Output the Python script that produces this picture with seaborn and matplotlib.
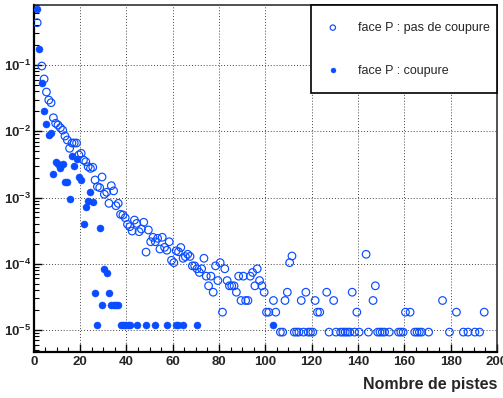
import numpy as np
import pandas as pd
import matplotlib
matplotlib.use("Agg")
import matplotlib.pyplot as plt
import matplotlib.ticker as mticker
import seaborn as sns

# ---------------- data ----------------
open_x = [1.5, 3.5, 4.5, 5.5, 6.5, 7.5, 8.5, 9.5, 10.5, 11.5, 12.5, 13.5, 14.5, 15.5,
          16.5, 17.5, 18.5, 19.5, 20.5, 21.5, 22.5, 23.5, 24.5, 25.5, 26.5, 27.5, 28.5,
          29.5, 30.5, 31.5, 32.5, 33.5, 34.5, 35.5, 36.5, 37.5, 38.5, 39.5, 40.5, 41.5,
          42.5, 43.5, 44.5, 45.5, 46.5, 47.5, 48.5, 49.5, 50.5, 51.5, 52.5, 53.5, 54.5,
          55.5, 56.5, 57.5, 58.5, 59.5, 60.5, 61.5, 62.5, 63.5, 64.5, 65.5, 66.5, 67.5,
          68.5, 69.5, 70.5, 71.5, 72.5, 73.5, 74.5, 75.5, 76.5, 77.5, 78.5, 79.5, 80.5,
          81.5, 82.5, 83.5, 84.5, 85.5, 86.5, 87.5, 88.5, 89.5, 90.5, 91.5, 92.5, 93.5,
          94.5, 95.5, 96.5, 97.5, 98.5, 99.5, 100.5, 101.5, 103.5, 104.5, 106.5, 107.5,
          108.5, 109.5, 110.5, 111.5, 112.5, 113.5, 114.5, 115.5, 116.5, 117.5, 118.5,
          119.5, 120.5, 121.5, 122.5, 123.5, 126.5, 127.5, 129.5, 130.5, 132.5, 133.5,
          134.5, 135.5, 136.5, 137.5, 138.5, 139.5, 140.5, 143.5, 144.5, 146.5, 147.5,
          148.5, 149.5, 150.5, 151.5, 153.5, 157.5, 158.5, 159.5, 160.5, 162.5, 164.5,
          165.5, 166.5, 167.5, 170.5, 176.5, 179.5, 182.5, 185.5, 187.5, 190.5, 192.5,
          194.5]
open_y = [0.435, 0.0966, 0.0615, 0.0391, 0.0296, 0.0270, 0.0160, 0.0132, 0.0124, 0.0113,
          0.0104, 0.00847, 0.00738, 0.00553, 0.00665, 0.00665, 0.00665, 0.00439, 0.00465,
          0.00368, 0.00347, 0.00292, 0.00275, 0.00286, 0.00184, 0.00146, 0.00141, 0.00204,
          0.00112, 0.00120, 0.000817, 0.00151, 0.00126, 0.000752, 0.000817, 0.000557,
          0.000545, 0.000495, 0.000394, 0.000363, 0.000312, 0.000457, 0.000407, 0.000305,
          0.000335, 0.000423, 0.000150, 0.000324, 0.000215, 0.000251, 0.000215, 0.000242,
          0.000167, 0.000251, 0.000177, 0.000160, 0.000215, 0.000113, 0.000104, 0.000157,
          0.000152, 0.000176, 0.000121, 0.000128, 0.000139, 0.000129, 9.3e-5, 9.3e-5,
          8.4e-5, 7.4e-5, 8.4e-5, 0.000121, 6.5e-5, 4.65e-5, 6.5e-5, 3.72e-5, 9.3e-5,
          5.58e-5, 0.000104, 1.86e-5, 8.4e-5, 5.58e-5, 4.65e-5, 4.65e-5, 4.65e-5, 3.72e-5,
          6.5e-5, 2.79e-5, 6.5e-5, 2.79e-5, 2.79e-5, 6.5e-5, 7.4e-5, 4.65e-5, 8.4e-5,
          5.58e-5, 4.65e-5, 3.72e-5, 1.86e-5, 1.86e-5, 2.79e-5, 1.86e-5, 9.3e-6, 9.3e-6,
          2.79e-5, 3.72e-5, 0.000104, 0.000131, 9.3e-6, 9.3e-6, 9.3e-6, 2.79e-5, 9.3e-6,
          3.72e-5, 9.3e-6, 9.3e-6, 9.3e-6, 2.79e-5, 1.86e-5, 1.86e-5, 3.72e-5, 9.3e-6,
          2.79e-5, 9.3e-6, 9.3e-6, 9.3e-6, 9.3e-6, 9.3e-6, 9.3e-6, 3.72e-5, 9.3e-6,
          1.86e-5, 9.3e-6, 0.000139, 9.3e-6, 2.79e-5, 4.65e-5, 9.3e-6, 9.3e-6, 9.3e-6,
          9.3e-6, 9.3e-6, 9.3e-6, 9.3e-6, 9.3e-6, 1.86e-5, 1.86e-5, 9.3e-6, 9.3e-6,
          9.3e-6, 9.3e-6, 9.3e-6, 2.79e-5, 9.3e-6, 1.86e-5, 9.3e-6, 9.3e-6, 9.3e-6,
          9.3e-6, 1.86e-5]

cut_x = [1.5, 2.5, 3.5, 4.5, 5.5, 6.5, 7.5, 8.5, 9.5, 10.5, 11.5, 12.5, 13.5, 14.5, 15.5,
         16.5, 17.5, 18.5, 19.5, 20.5, 21.5, 22.5, 23.5, 24.5, 25.5, 26.5, 27.5, 28.5,
         29.5, 30.5, 31.5, 32.5, 33.5, 34.5, 35.5, 36.5, 37.5, 38.5, 39.5, 40.5, 41.5,
         44.5, 48.5, 52.5, 57.5, 61.5, 62.5, 64.5, 70.5, 103.5]
cut_y = [0.693, 0.173, 0.053, 0.0202, 0.0129, 0.00877, 0.00951, 0.00224, 0.0034, 0.00317,
         0.00275, 0.00317, 0.00169, 0.00173, 0.00094, 0.00428, 0.00302, 0.00381, 0.00206,
         0.00184, 0.000394, 0.000711, 0.000885, 0.0012, 0.000847, 3.57e-5, 1.19e-5,
         0.000343, 2.38e-5, 8.33e-5, 7.14e-5, 3.57e-5, 2.38e-5, 2.38e-5, 2.38e-5, 2.38e-5,
         1.19e-5, 1.19e-5, 1.19e-5, 1.19e-5, 1.19e-5, 1.19e-5, 1.19e-5, 1.19e-5, 1.19e-5,
         1.19e-5, 1.19e-5, 1.19e-5, 1.19e-5, 1.19e-5]

label_open = "face P : pas de coupure"
label_cut = "face P : coupure"
x_label = "Nombre de pistes"
xtick_vals = [0, 20, 40, 60, 80, 100, 120, 140, 160, 180, 200]
ytick_vals = [1e-5, 1e-4, 1e-3, 1e-2, 1e-1]
ytick_labels = [r"$\mathbf{10^{-5}}$", r"$\mathbf{10^{-4}}$", r"$\mathbf{10^{-3}}$",
                r"$\mathbf{10^{-2}}$", r"$\mathbf{10^{-1}}$"]

# ---------------- style ----------------
sns.set_theme(style="white")
plt.rcParams["font.family"] = ["Liberation Sans", "DejaVu Sans"]
plt.rcParams["mathtext.fontset"] = "custom"
plt.rcParams["mathtext.rm"] = "Liberation Sans:bold"
plt.rcParams["mathtext.bf"] = "Liberation Sans:bold"
plt.rcParams["mathtext.it"] = "Liberation Sans:bold"

BLUE = "#0a4cff"

df_open = pd.DataFrame({"x": open_x, "y": open_y})
df_cut = pd.DataFrame({"x": cut_x, "y": cut_y})

fig = plt.figure(figsize=(5.03, 3.98), dpi=100)
ax = fig.add_axes([0.067, 0.1156, 0.921, 0.8718])

sns.scatterplot(data=df_cut, x="x", y="y", ax=ax, color=BLUE, edgecolor=BLUE,
                s=26, linewidth=0.3, label=label_cut, zorder=3)
sns.scatterplot(data=df_open, x="x", y="y", ax=ax, facecolors="none", edgecolor=BLUE,
                s=30, linewidth=0.85, marker="o", label=label_open, zorder=4)

ax.set_yscale("log")
ax.set_xlim(0, 200)
ax.set_ylim(4.66e-6, 0.805)

ax.set_xticks(xtick_vals)
ax.set_xticklabels([str(v) for v in xtick_vals], fontweight="bold", fontsize=9.5)
ax.xaxis.set_minor_locator(mticker.MultipleLocator(5))
ax.set_yticks(ytick_vals)
ax.set_yticklabels(ytick_labels, fontsize=9.5)
ax.yaxis.set_minor_locator(mticker.LogLocator(base=10, subs=np.arange(2, 10), numticks=20))
ax.yaxis.set_minor_formatter(mticker.NullFormatter())

ax.tick_params(which="major", direction="in", length=6, width=1.0, color="black",
               bottom=True, left=True, top=False, right=False, pad=3)
ax.tick_params(which="minor", direction="in", length=3.5, width=0.8, color="black",
               bottom=True, left=True, top=False, right=False)
ax.tick_params(axis="y", which="major", pad=2)

ax.grid(True, which="major", color="#444444", linestyle=(0, (1, 2)), linewidth=0.7)
ax.set_axisbelow(True)

for side in ["left", "bottom"]:
    ax.spines[side].set_linewidth(1.6)
    ax.spines[side].set_color("black")
for side in ["top", "right"]:
    ax.spines[side].set_linewidth(1.1)
    ax.spines[side].set_color("#222222")

ax.set_xlabel("")
ax.set_ylabel("")
fig.text(0.988, 0.035, x_label, ha="right", va="center", fontsize=11.5, fontweight="bold")

handles, labels = ax.get_legend_handles_labels()
order = [labels.index(label_open), labels.index(label_cut)]
leg = ax.legend([handles[i] for i in order], [labels[i] for i in order],
                loc="upper left", bbox_to_anchor=(0.5985, 0.752, 0.4015, 0.248),
                mode="expand", borderaxespad=0, fontsize=9, frameon=True,
                fancybox=False, edgecolor="black", borderpad=1.35, labelspacing=2.45,
                handlelength=0.8, handletextpad=1.6, markerscale=0.7)
leg.get_frame().set_linewidth(1.2)
leg.get_frame().set_facecolor("white")
leg.get_frame().set_alpha(1.0)

fig.savefig("out.png", dpi=100)
